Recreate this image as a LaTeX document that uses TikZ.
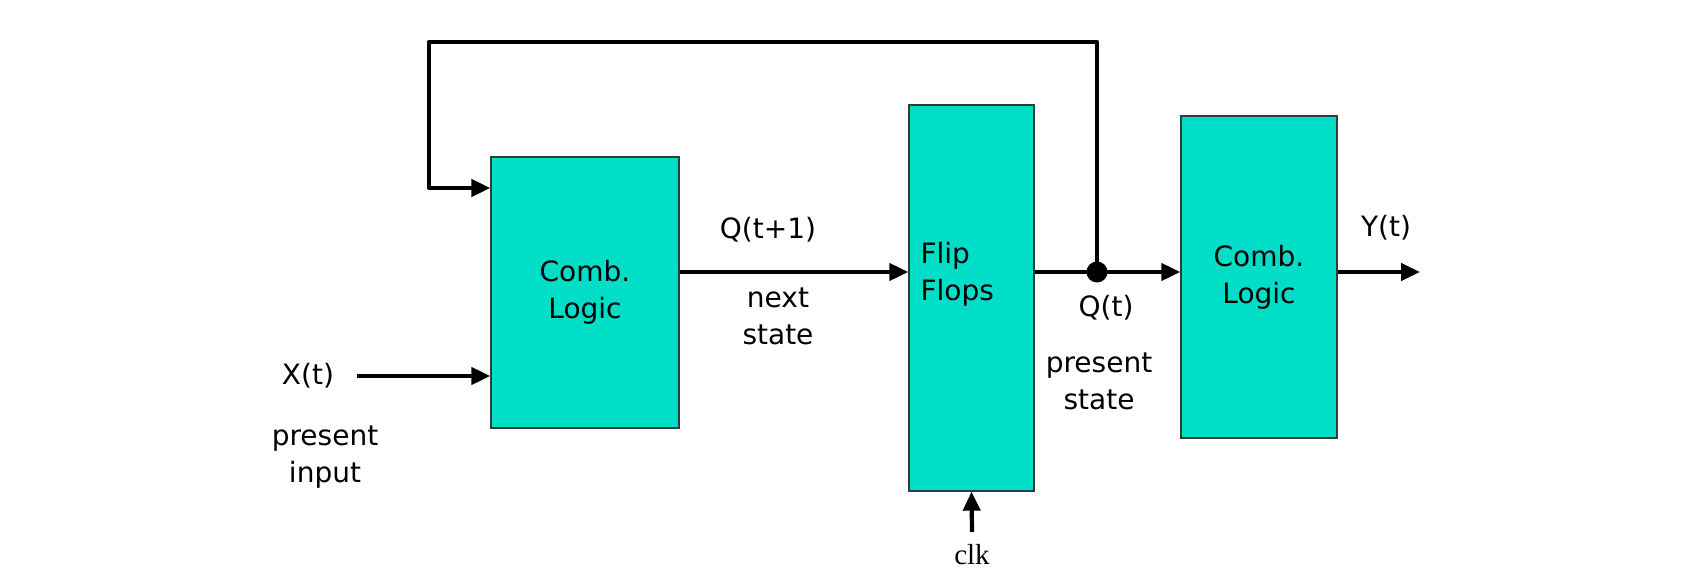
\documentclass[tikz,border=0pt]{standalone}
\usepackage{fontspec}
\setmainfont{DejaVu Sans}
\newfontfamily\clkfont{Liberation Serif}
\usepackage{tikz}
\usetikzlibrary{arrows.meta,calc,positioning}
\definecolor{boxfill}{RGB}{0,222,200}
\definecolor{boxline}{RGB}{50,60,60}

\begin{document}
\begin{tikzpicture}[
  x=1pt, y=-1pt,
  every node/.style={font=\fontsize{28}{37}\selectfont, align=center},
  block/.style={rectangle, draw=boxline, line width=1.3pt, fill=boxfill, inner sep=0pt},
  arrow/.style={-{Triangle[length=19pt,width=17pt]}, line width=4.2pt, black, line join=round}
]
\useasboundingbox (0,0) rectangle (1708,586);

% Blocks
\node[block, minimum width=188pt, minimum height=271pt] (comb1) at (585,292.5) {Comb.\\Logic};
\node[block, minimum width=125pt, minimum height=386pt] (ff) at (971.5,298) {};
\node[anchor=west, align=left] (fflbl) at (917,274) {Flip\\Flops};
\node[block, minimum width=156pt, minimum height=322pt] (comb2) at (1259,277) {Comb.\\Logic};

% Labels
\node (xlbl) at (308,376) {X(t)};
\node (xtxt) at (325,457) {present\\input};
\node (qnext) at (768,230) {Q(t+1)};
\node (ntxt) at (778,316) {next\\state};
\node (qnow) at (1106,308) {Q(t)};
\node (ptxt) at (1099,381) {present\\state};
\node (ylbl) at (1386,228) {Y(t)};
\node[font=\clkfont\fontsize{29}{30}\selectfont] (clk) at (972,555) {clk};

% Points
\coordinate (tap) at (1097,272);
\coordinate (xin) at (357,376);
\coordinate (fbtop) at (429,42);
\coordinate (yout) at (1420,272);
\coordinate (clkin) at (972,532);

% Arrows
\draw[arrow] (xin) -- (xin -| comb1.west);
\draw[arrow] (comb1.east |- tap) -- (ff.west |- tap);
\draw[arrow] (ff.east |- tap) -- (comb2.west |- tap);
\draw[arrow] (comb2.east |- tap) -- (yout);
\draw[arrow] (clkin) -- (ff.south);

% Feedback loop
\draw[arrow] (tap) -- (tap |- fbtop) -- (fbtop) -- (fbtop |- 0,188) -- (comb1.west |- 0,188);
\fill (tap) circle (10.5pt);

\end{tikzpicture}
\end{document}
